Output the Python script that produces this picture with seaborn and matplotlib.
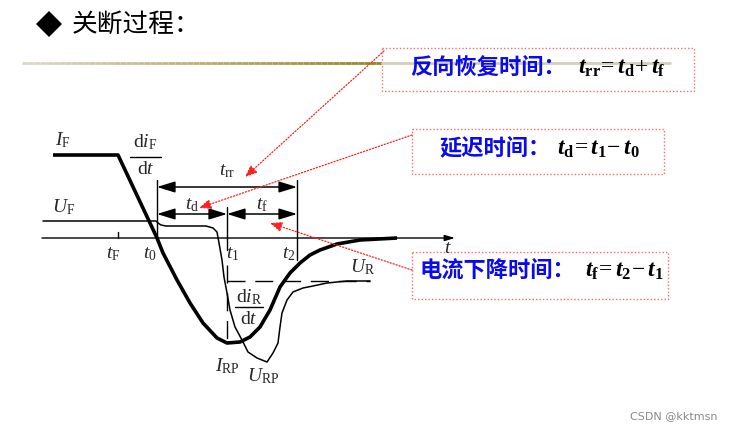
import numpy as np
import matplotlib.pyplot as plt
import seaborn as sns
from matplotlib.collections import LineCollection
from matplotlib.patches import Rectangle

# diode turn-off sketch, everything in pixel coords of the 730x430 slide
current_x = [53, 118, 150, 157, 163, 177, 190, 203, 217, 227, 240, 250, 260,
             270, 280, 290, 300, 310, 320, 337, 360, 397]
current_y = [155, 155, 223, 238, 253, 280, 303, 323, 338, 343, 342, 337, 327,
             310, 287, 273, 263, 255, 250, 244, 240, 238]

voltage_x = [43, 156, 158, 161, 166, 206, 213, 217, 219, 222, 224, 227, 230,
             235, 242, 248, 257, 267, 273, 278, 280, 282, 287, 293, 303, 313,
             327, 347, 370]
voltage_y = [221, 221, 223, 225, 226, 226, 228, 232, 243, 260, 277, 293, 310,
             327, 340, 352, 358, 362, 353, 343, 327, 313, 300, 292, 288, 286,
             283, 281, 281]

tick_labels = [r"$t_{\mathrm{F}}$", r"$t_0$", r"$t_1$", r"$t_2$"]
tick_x = [118, 157, 227, 297]

interval_labels = [r"$t_{\mathrm{rr}}$", r"$t_{\mathrm{d}}$", r"$t_{\mathrm{f}}$"]
interval_start = [157, 157, 227]
interval_end = [297, 227, 297]
interval_y = [187, 214, 214]

box_titles = ["反向恢复时间：", "延迟时间：", "电流下降时间："]
box_formulas = [
    r"$\mathbfit{t}_{\mathbf{rr}}\!=\mathbfit{t}_{\mathbf{d}}\!+\mathbfit{t}_{\mathbf{f}}$",
    r"$\mathbfit{t}_{\mathbf{d}}\!=\mathbfit{t}_{\mathbf{1}}\!-\mathbfit{t}_{\mathbf{0}}$",
    r"$\mathbfit{t}_{\mathbf{f}}\!=\mathbfit{t}_{\mathbf{2}}\!-\mathbfit{t}_{\mathbf{1}}$",
]

sns.set_theme(style="white")
plt.rcParams["font.family"] = ["Noto Sans CJK SC", "DejaVu Sans"]
plt.rcParams["mathtext.fontset"] = "custom"
plt.rcParams["mathtext.rm"] = "Liberation Serif"
plt.rcParams["mathtext.it"] = "Liberation Serif:italic"
plt.rcParams["mathtext.bf"] = "Liberation Serif:bold"
plt.rcParams["mathtext.bfit"] = "Liberation Serif:italic:bold"

fig = plt.figure(figsize=(7.3, 4.3), dpi=100)
ax = fig.add_axes([0, 0, 1, 1])
ax.set_xlim(0, 730)
ax.set_ylim(430, 0)
ax.axis("off")

# title
ax.plot([49], [24], marker="D", ms=13, color="black", mew=0)
ax.text(72, 25, "关断过程：", fontsize=18.5, va="center", ha="left", color="black")

# header rule, fading from grey to olive
xs = np.linspace(22, 382, 60)
segs = [[(a, 63), (b, 63)] for a, b in zip(xs[:-1], xs[1:])]
cmap = plt.matplotlib.colors.LinearSegmentedColormap.from_list("rule", ["#dcd8cc", "#98841c"])
lc = LineCollection(segs, colors=cmap(np.linspace(0, 1, len(segs))), linewidths=2)
ax.add_collection(lc)
ax.plot([382, 670], [63, 63], color="#d4ceb6", lw=2)

# time axis
ax.annotate("", xy=(455, 238), xytext=(42, 238),
            arrowprops=dict(arrowstyle="-|>,head_length=0.5,head_width=0.15",
                            color="black", lw=1, mutation_scale=12,
                            shrinkA=0, shrinkB=0))
ax.text(448, 253, r"$t$", fontsize=14, ha="center", va="baseline")

# curves
sns.lineplot(x=voltage_x, y=voltage_y, sort=False, estimator=None, ax=ax,
             color="black", lw=1.1)
sns.lineplot(x=current_x, y=current_y, sort=False, estimator=None, ax=ax,
             color="black", lw=2.6, solid_joinstyle="round", solid_capstyle="butt")

# time markers
ax.plot([tick_x[0], tick_x[0]], [232, 238], color="black", lw=1)
ax.plot([tick_x[1], tick_x[1]], [180, 238], color="black", lw=1)
ax.plot([tick_x[2], tick_x[2]], [207, 250], color="black", lw=1)
ax.plot([tick_x[3], tick_x[3]], [180, 260], color="black", lw=1)
ax.plot([tick_x[2], tick_x[2]], [265, 343], color="black", lw=1, ls=(0, (13, 7)))
ax.plot([tick_x[2], 370], [281, 281], color="black", lw=1, ls=(0, (13, 7)))

tick_offsets = [-5, -7, 6, -8]
for lab, x, dx in zip(tick_labels, tick_x, tick_offsets):
    ax.text(x + dx, 258, lab, fontsize=14, ha="center", va="baseline")

# interval arrows
for lab, a, b, y in zip(interval_labels, interval_start, interval_end, interval_y):
    ax.annotate("", xy=(b, y), xytext=(a, y),
                arrowprops=dict(arrowstyle="<|-|>,head_length=0.55,head_width=0.17",
                                color="black", lw=1.1, mutation_scale=20,
                                shrinkA=0, shrinkB=0))
    ax.text((a + b) / 2, y - 5 if lab != interval_labels[0] else y - 12, lab,
            fontsize=14, ha="center", va="baseline")

# curve labels
ax.text(55, 145, r"$I_{\mathrm{F}}$", fontsize=14, va="baseline")
ax.text(52, 212, r"$U_{\mathrm{F}}$", fontsize=14, va="baseline")
ax.text(350, 272, r"$U_{\mathrm{R}}$", fontsize=14, va="baseline")
ax.text(215, 371, r"$I_{\mathrm{RP}}$", fontsize=14, va="baseline")
ax.text(247, 381, r"$U_{\mathrm{RP}}$", fontsize=14, va="baseline")

ax.text(145, 147, r"$\mathrm{d}i_{\mathrm{F}}$", fontsize=14, ha="center", va="baseline")
ax.plot([130, 161], [157, 157], color="black", lw=1)
ax.text(146, 174, r"$\mathrm{d}t$", fontsize=14, ha="center", va="baseline")

ax.text(249, 302, r"$\mathrm{d}i_{\mathrm{R}}$", fontsize=14, ha="center", va="baseline")
ax.plot([235, 263], [307, 307], color="black", lw=1)
ax.text(249, 324, r"$\mathrm{d}t$", fontsize=14, ha="center", va="baseline")

# annotation boxes
boxes = [(382, 48, 312, 43), (412, 129, 252, 45), (412, 252, 256, 47)]
title_x = [410, 440, 420]
title_y = [68, 149, 271]
formula_x = [578, 557, 585]
for (bx, by, bw, bh), t, f, tx, ty, fx in zip(boxes, box_titles, box_formulas,
                                                title_x, title_y, formula_x):
    ax.add_patch(Rectangle((bx, by), bw, bh, fill=False,
                           edgecolor="#ff6b6b", lw=1, ls=(0, (1, 1.5))))
    ax.text(tx, ty, t, fontsize=16, fontweight="bold", color="#0a0aee",
            ha="left", va="center")
    ax.text(fx, ty + 6, f, fontsize=17, ha="left", va="baseline", color="black")

# red pointers
pointer_from = [(384, 51), (412, 135), (412, 270)]
pointer_to = [(245, 177), (199, 208), (270, 223)]
for p0, p1 in zip(pointer_from, pointer_to):
    ax.annotate("", xy=p1, xytext=p0,
                arrowprops=dict(arrowstyle="-|>,head_length=0.6,head_width=0.25",
                                color="#ff2020", lw=0.9, ls=(0, (1, 1.5)),
                                mutation_scale=12, shrinkA=0, shrinkB=0))

ax.text(674, 416, "CSDN @kktmsn", fontsize=8, color="#8a8a8a", ha="center",
        va="center", family="DejaVu Sans")

fig.savefig("out.png", dpi=100)
